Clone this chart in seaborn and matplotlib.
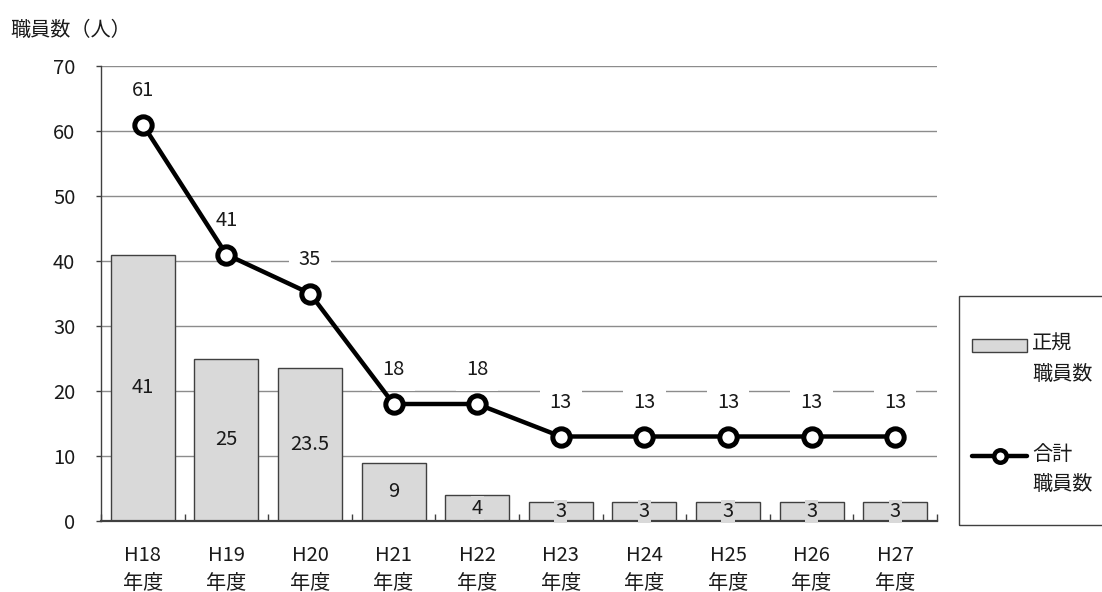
import matplotlib
matplotlib.use("Agg")
import matplotlib.pyplot as plt
import seaborn as sns
import numpy as np
import pandas as pd
from matplotlib.lines import Line2D
from matplotlib.patches import Patch, Rectangle
from matplotlib.legend_handler import HandlerPatch, HandlerLine2D

# Data
years = ["H18", "H19", "H20", "H21", "H22", "H23", "H24", "H25", "H26", "H27"]
regular_staff = [41, 25, 23.5, 9, 4, 3, 3, 3, 3, 3]
total_staff = [61, 41, 35, 18, 18, 13, 13, 13, 13, 13]
y_ticks = [0, 10, 20, 30, 40, 50, 60, 70]

BAR_FILL = "#d9d9d9"
EDGE = "#404040"
TEXT = "#1a1a1a"
FS = 14.5

sns.set_theme(style="white")
plt.rcParams["font.family"] = ["Noto Sans CJK JP", "DejaVu Sans"]

tick_labels = [f"{y}\n年度" for y in years]
df = pd.DataFrame({"year": tick_labels, "regular": regular_staff, "total": total_staff})

W, H = 1102, 592
fig = plt.figure(figsize=(W / 100, H / 100), dpi=100)
ax = fig.add_axes([101 / W, 1 - 521 / H, (937 - 101) / W, (521 - 66) / H])

sns.barplot(data=df, x="year", y="regular", ax=ax, color=BAR_FILL,
            edgecolor=EDGE, linewidth=1.0, width=0.766, saturation=1, zorder=2)

xpos = np.arange(len(years))
ax.plot(xpos, df["total"], color="black", lw=3.2, marker="o", markersize=12.5,
        markerfacecolor="white", markeredgecolor="black", markeredgewidth=3.6,
        zorder=4, solid_joinstyle="round")

# Value labels: bar values centred in the bar, totals above the points
bar_box = dict(boxstyle="square,pad=0.05", facecolor=BAR_FILL, edgecolor="none")
line_box = dict(boxstyle="square,pad=0.5", facecolor="white", edgecolor="none")
for x, h in zip(xpos, df["regular"]):
    ax.text(x, h / 2, f"{h:g}", ha="center", va="center", fontsize=FS,
            color=TEXT, bbox=bar_box, zorder=3)
for x, t in zip(xpos, df["total"]):
    ax.annotate(f"{t:g}", (x, t), xytext=(0, 24.5), textcoords="offset points",
                ha="center", va="center", fontsize=FS, color=TEXT,
                bbox=line_box, zorder=3)

ax.set_xlim(-0.5, len(years) - 0.5)
ax.set_ylim(0, 70)
ax.set_yticks(y_ticks)
ax.set_xlabel("")
ax.set_ylabel("")
ax.yaxis.grid(True, color="#8c8c8c", lw=1.0, zorder=0)
ax.set_axisbelow(True)
for s in ["top", "right"]:
    ax.spines[s].set_visible(False)
ax.spines["left"].set_color(EDGE)
ax.spines["bottom"].set_color(EDGE)
ax.spines["left"].set_linewidth(1.0)
ax.spines["bottom"].set_linewidth(1.6)

ax.tick_params(axis="y", labelsize=FS, length=3.5, width=1, color=EDGE,
               direction="out", left=True, pad=15, labelcolor=TEXT)
ax.tick_params(axis="x", labelsize=FS, length=0, pad=17, labelcolor=TEXT)
for lab in ax.get_xticklabels():
    lab.set_linespacing(1.45)
ax.set_xticks(np.arange(-0.5, len(years), 1.0), minor=True)
ax.tick_params(axis="x", which="minor", direction="in", length=5, width=1,
               color=EDGE, bottom=True)

fig.text(10 / W, 1 - 30 / H, "職員数（人）", fontsize=FS, va="center",
         ha="left", color=TEXT)

# Legend: handles sit beside the first line of each two-line label
LIFT = 0.75


def lifted_patch(legend, orig_handle, xdescent, ydescent, width, height, fontsize):
    return Rectangle((-xdescent, -ydescent + LIFT * fontsize), width, height)


class LiftedLine(HandlerLine2D):
    def create_artists(self, legend, orig_handle, xdescent, ydescent, width,
                       height, fontsize, trans):
        return super().create_artists(legend, orig_handle, xdescent,
                                      ydescent - 2 * LIFT * fontsize, width,
                                      height, fontsize, trans)


bar_handle = Patch(facecolor=BAR_FILL, edgecolor=EDGE, linewidth=1.0)
line_handle = Line2D([0], [0], color="black", lw=3.2, marker="o", markersize=9,
                     markerfacecolor="white", markeredgecolor="black",
                     markeredgewidth=3.2)
leg = fig.legend([bar_handle, line_handle], ["正規\n職員数", "合計\n職員数"],
                 handler_map={Patch: HandlerPatch(patch_func=lifted_patch),
                              Line2D: LiftedLine()},
                 loc="upper left", bbox_to_anchor=(972 / W, 1 - 334 / H),
                 frameon=False, fontsize=FS, handlelength=2.75,
                 handleheight=0.6, handletextpad=0.25, labelspacing=2.95,
                 borderpad=0, borderaxespad=0)
for t in leg.get_texts():
    t.set_linespacing(1.55)
    t.set_color(TEXT)

fig.add_artist(Rectangle((959 / W, 1 - 525 / H), 0.2, (525 - 296) / H,
                         transform=fig.transFigure, fill=False,
                         edgecolor=EDGE, lw=1.0))

fig.savefig("out.png", dpi=100)
